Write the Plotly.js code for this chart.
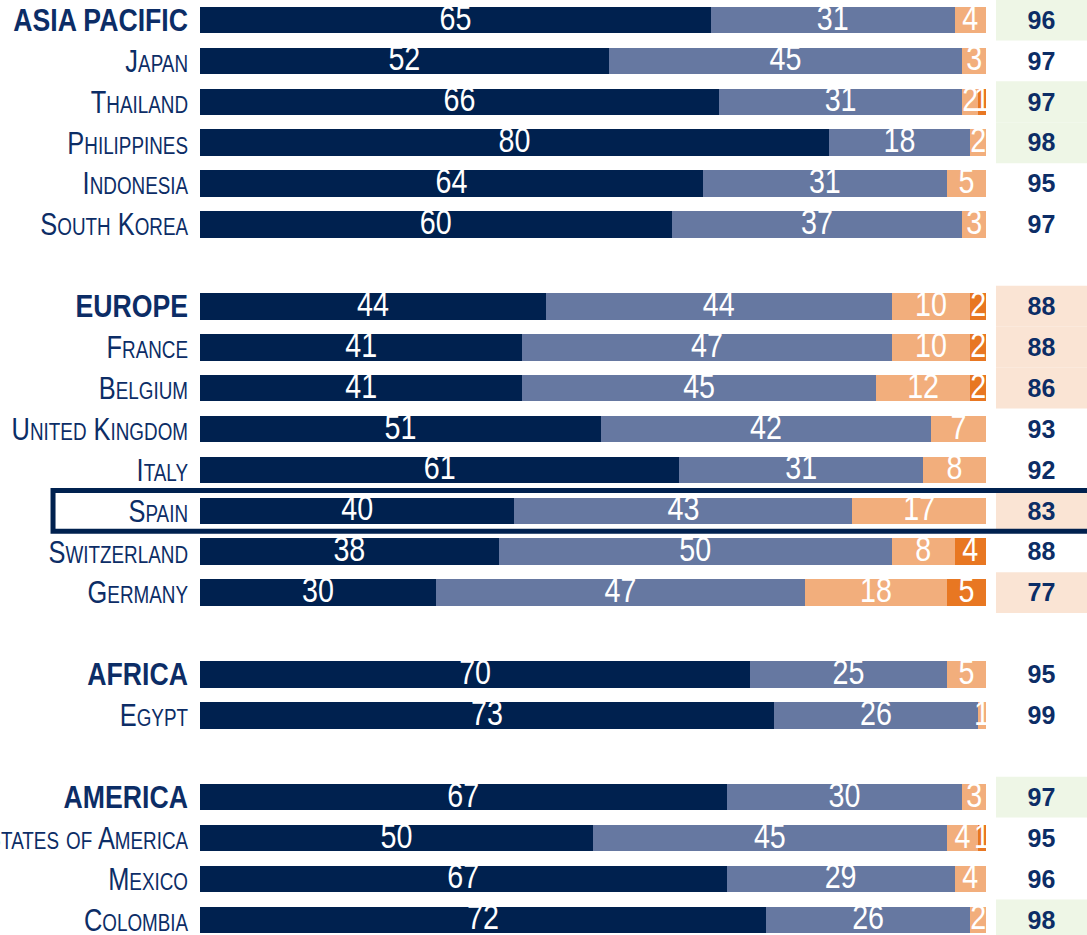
<!DOCTYPE html>
<html>
<head>
<meta charset="utf-8">
<script src="https://cdn.plot.ly/plotly-3.0.1.min.js"></script>
<style>html,body{margin:0;padding:0;background:#fff;}#chart{width:1087px;height:935px;}</style>
</head>
<body>
<div id="chart"></div>
<script>
// ---- data ----
const labels = ['ASIA PACIFIC','Japan','Thailand','Philippines','Indonesia','South Korea',
  'EUROPE','France','Belgium','United Kingdom','Italy','Spain','Switzerland','Germany',
  'AFRICA','Egypt',
  'AMERICA','United States of America','Mexico','Colombia'];
const regions = ['ASIA PACIFIC','EUROPE','AFRICA','AMERICA'];
const seg1 = [65,52,66,80,64,60, 44,41,41,51,61,40,38,30, 70,73, 67,50,67,72];
const seg2 = [31,45,31,18,31,37, 44,47,45,42,31,43,50,47, 25,26, 30,45,29,26];
const seg3 = [4,3,2,2,5,3, 10,10,12,7,8,17,8,18, 5,1, 3,4,4,2];
const seg4 = [0,0,1,0,0,0, 2,2,2,0,0,0,4,5, 0,0, 0,1,0,0];
const totals = [96,97,97,98,95,97, 88,88,86,93,92,83,88,77, 95,99, 97,95,96,98];
const shading = ['g','','g','g','','', 'p','p','p','','','p','','p', '','', 'g','','','g'];
const highlighted = 'Spain';

// ---- styles ----
const C_NAVY = '#00214f', C_SLATE = '#6678a1', C_LORANGE = '#f2ae7c', C_DORANGE = '#e87722';
const TXT = '#0c2d66';
const BG = {g:'#eef6e6', p:'#fae4d4'};
const FONT = '"Liberation Sans",Arial,sans-serif';
const NARROW_SCALE = 0.82;      // emulate Arial Narrow
const NARROW_BOLD_SCALE = 0.86; // emulate Arial Narrow Bold

// row positions: one empty row before each region except the first
const ypos = [];
let r = 0;
labels.forEach((l,i)=>{ if (i>0 && regions.includes(l)) r += 1; ypos.push(r); r += 1; });

function smallCaps(name){
  return name.split(' ').map(w=>{
    if (w === w.toLowerCase()) return '<span style="font-size:23px">'+w.toUpperCase()+'</span>';
    return w[0]+'<span style="font-size:23px">'+w.slice(1).toUpperCase()+'</span>';
  }).join(' ');
}
const ticktext = labels.map(l => regions.includes(l) ? '<b>'+l+'</b>' : smallCaps(l));

function txt(a){ return a.map(v => v ? String(v) : ''); }
function barTrace(vals, color){
  return {type:'bar', orientation:'h', y:ypos, x:vals, text:txt(vals),
    texttemplate:'%{text}', textposition:'inside', insidetextanchor:'middle',
    textangle:0, constraintext:'none', cliponaxis:false,
    textfont:{family:FONT, size:35, color:'#ffffff'},
    marker:{color:color, line:{width:0}}, width:0.65, hoverinfo:'skip', showlegend:false};
}

const traces = [
  barTrace(seg1, C_NAVY), barTrace(seg2, C_SLATE), barTrace(seg3, C_LORANGE), barTrace(seg4, C_DORANGE),
  {type:'scatter', mode:'text', x:ypos.map(()=>107.06), y:ypos.map(v=>v+0.06), text:totals.map(String),
   textfont:{family:FONT, size:25, color:TXT, weight:'bold'},
   texttemplate:'<b>%{text}</b>', hoverinfo:'skip', showlegend:false, cliponaxis:false}
];

const shapes = [];
shading.forEach((s,i)=>{
  if (!s) return;
  shapes.push({type:'rect', layer:'below', xref:'x', yref:'y', x0:101.27, x1:113,
    y0:ypos[i]-0.5, y1:ypos[i]+0.5, fillcolor:BG[s], line:{width:0}});
});
const hi = ypos[labels.indexOf(highlighted)];
shapes.push({type:'rect', layer:'above', xref:'paper', yref:'y', x0:-0.1657, x1:1.05,
  y0:hi-0.5, y1:hi+0.5, fillcolor:'rgba(0,0,0,0)', line:{color:C_NAVY, width:5}});

const layout = {
  width:1087, height:935, margin:{l:200, r:0, t:0, b:0},
  paper_bgcolor:'#ffffff', plot_bgcolor:'#ffffff',
  barmode:'stack', bargap:0,
  xaxis:{range:[0,112.85], visible:false, fixedrange:true},
  yaxis:{range:[22.37,-0.489], tickvals:ypos, ticktext:ticktext, showgrid:false, zeroline:false,
    showline:false, ticks:'', ticklabelstandoff:11, ticklabeloverflow:'allow',
    tickfont:{family:FONT, size:31, color:TXT}},
  shapes:shapes, showlegend:false
};
Plotly.newPlot('chart', traces, layout, {displayModeBar:false, staticPlot:true}).then(gd=>{
  // condense label and bar texts horizontally (narrow typeface look)
  gd.querySelectorAll('.ytick text').forEach(t=>{
    const b = t.getBBox(); const R = b.x + b.width;
    const s = t.querySelector('tspan[style*="bold"], b') || /font-weight:\s*bold/.test(t.innerHTML) ? NARROW_BOLD_SCALE : NARROW_SCALE;
    const tr = t.getAttribute('transform') || '';
    t.setAttribute('transform', tr+' translate('+R+',0) scale('+s+',1) translate('+(-R)+',0)');
  });
  gd.querySelectorAll('text.bartext').forEach(t=>{
    const b = t.getBBox(); const cx = b.x + b.width/2;
    const tr = t.getAttribute('transform') || '';
    t.setAttribute('transform', tr+' translate('+cx+',-3) scale('+NARROW_SCALE+',1) translate('+(-cx)+',0)');
  });
});
</script>
</body>
</html>
